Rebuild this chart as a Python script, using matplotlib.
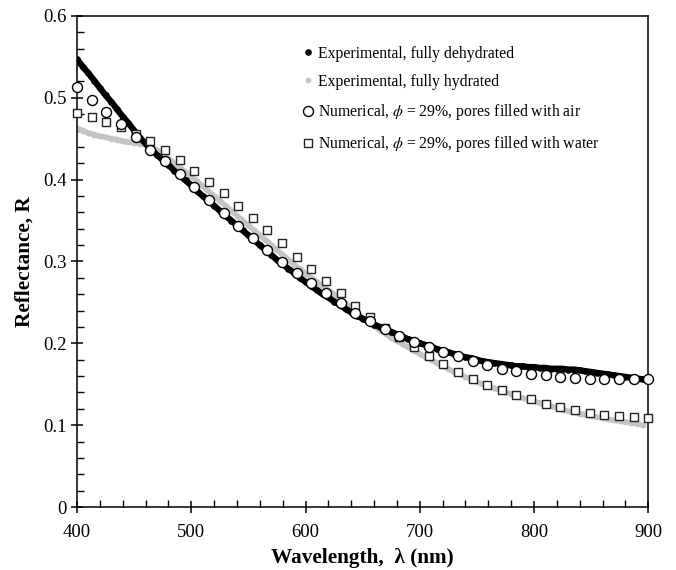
import numpy as np
import matplotlib
matplotlib.use("Agg")
import matplotlib.pyplot as plt
from matplotlib.ticker import MultipleLocator

plt.rcParams['font.family'] = ['Liberation Serif', 'DejaVu Serif']
plt.rcParams['mathtext.fontset'] = 'stix'

# Experimental spectra (sampled every 5 nm, 400-895 nm)
wl_exp = np.arange(400, 896, 5)
R_dehydrated = [
    0.547, 0.538, 0.530, 0.521, 0.512, 0.503, 0.495, 0.486, 0.477, 0.469,
    0.460, 0.451, 0.444, 0.437, 0.430, 0.424, 0.418, 0.411, 0.405, 0.399,
    0.393, 0.386, 0.380, 0.374, 0.368, 0.362, 0.356, 0.350, 0.344, 0.338,
    0.332, 0.326, 0.320, 0.314, 0.308, 0.302, 0.297, 0.291, 0.286, 0.280,
    0.275, 0.270, 0.265, 0.260, 0.256, 0.251, 0.247, 0.242, 0.238, 0.234,
    0.230, 0.227, 0.223, 0.220, 0.217, 0.214, 0.211, 0.208, 0.205, 0.203,
    0.200, 0.198, 0.196, 0.193, 0.191, 0.189, 0.187, 0.185, 0.183, 0.182,
    0.180, 0.178, 0.177, 0.176, 0.175, 0.174, 0.173, 0.172, 0.172, 0.171,
    0.171, 0.170, 0.170, 0.169, 0.169, 0.169, 0.168, 0.168, 0.167, 0.166,
    0.165, 0.164, 0.163, 0.162, 0.161, 0.160, 0.159, 0.158, 0.157, 0.156,
]
R_hydrated = [
    0.463, 0.460, 0.457, 0.455, 0.453, 0.452, 0.450, 0.449, 0.447, 0.446,
    0.445, 0.444, 0.443, 0.440, 0.436, 0.431, 0.426, 0.420, 0.415, 0.409,
    0.404, 0.398, 0.392, 0.386, 0.380, 0.374, 0.368, 0.362, 0.356, 0.350,
    0.344, 0.338, 0.332, 0.326, 0.320, 0.314, 0.308, 0.302, 0.296, 0.291,
    0.285, 0.280, 0.275, 0.270, 0.265, 0.260, 0.254, 0.249, 0.243, 0.237,
    0.231, 0.226, 0.221, 0.216, 0.212, 0.207, 0.203, 0.199, 0.195, 0.191,
    0.187, 0.183, 0.180, 0.176, 0.172, 0.169, 0.165, 0.162, 0.159, 0.156,
    0.153, 0.150, 0.148, 0.145, 0.143, 0.140, 0.138, 0.135, 0.133, 0.131,
    0.129, 0.127, 0.125, 0.123, 0.121, 0.119, 0.117, 0.116, 0.114, 0.113,
    0.111, 0.110, 0.109, 0.107, 0.106, 0.105, 0.104, 0.103, 0.102, 0.100,
]

# Numerical results (40 wavelengths, 400-900 nm)
wl_num = np.linspace(400, 900, 40)
R_air = [
    0.513, 0.497, 0.483, 0.468, 0.452, 0.436, 0.423, 0.407, 0.391, 0.375,
    0.359, 0.343, 0.329, 0.314, 0.299, 0.286, 0.274, 0.261, 0.249, 0.237,
    0.227, 0.218, 0.209, 0.202, 0.196, 0.189, 0.184, 0.178, 0.173, 0.169,
    0.166, 0.163, 0.161, 0.159, 0.158, 0.157, 0.157, 0.157, 0.157, 0.157,
]
R_water = [
    0.482, 0.476, 0.471, 0.464, 0.456, 0.447, 0.436, 0.424, 0.411, 0.397,
    0.384, 0.368, 0.353, 0.338, 0.322, 0.306, 0.291, 0.276, 0.261, 0.246,
    0.232, 0.219, 0.208, 0.196, 0.185, 0.175, 0.165, 0.157, 0.149, 0.143,
    0.137, 0.132, 0.126, 0.122, 0.119, 0.115, 0.113, 0.111, 0.110, 0.109,
]

labels = [
    "Experimental, fully dehydrated",
    "Experimental, fully hydrated",
    r"Numerical, $\phi$ = 29%, pores filled with air",
    r"Numerical, $\phi$ = 29%, pores filled with water",
]

gray = '#c4c4c4'
fig = plt.figure(figsize=(6.76, 5.70), dpi=100)
ax = fig.add_axes([0.114, 0.1105, 0.845, 0.8615])

# dense experimental bands
ax.plot(wl_exp, R_hydrated, '-', color=gray, lw=4.0, solid_capstyle='round', zorder=2)
h_hyd, = ax.plot(wl_exp, R_hydrated, 'o', color=gray, ms=4.2, mec='none', zorder=2)
ax.plot(wl_exp, R_dehydrated, '-', color='black', lw=4.5, solid_capstyle='round', zorder=3)
h_deh, = ax.plot(wl_exp, R_dehydrated, 'o', color='black', ms=4.8, mec='none', zorder=3)
h_wat, = ax.plot(wl_num, R_water, 's', mfc='white', mec='#222222', mew=1.0, ms=6.0, zorder=4, clip_on=False)
h_air, = ax.plot(wl_num, R_air, 'o', mfc='white', mec='black', mew=1.0, ms=7.2, zorder=5, clip_on=False)

ax.set_xlim(400, 900)
ax.set_ylim(0, 0.6)
ax.xaxis.set_major_locator(MultipleLocator(100))
ax.xaxis.set_minor_locator(MultipleLocator(20))
ax.yaxis.set_minor_locator(MultipleLocator(0.02))
ax.set_yticks(np.arange(0, 0.61, 0.1))
ax.set_yticklabels(['0', '0.1', '0.2', '0.3', '0.4', '0.5', '0.6'])
ax.tick_params(which='major', direction='inout', length=9, width=1.1, labelsize=13.5)
ax.tick_params(axis='x', which='major', pad=8)
ax.tick_params(axis='y', which='major', pad=3)
ax.tick_params(which='minor', direction='in', length=5, width=1.0)
ax.tick_params(top=False, right=False, which='both')
for s in ax.spines.values():
    s.set_linewidth(1.1)

ax.set_xlabel("Wavelength,  λ (nm)", fontsize=15.3, fontweight='bold', labelpad=5)
ax.set_ylabel("Reflectance, R", fontsize=15.3, fontweight='bold', labelpad=6)

leg = ax.legend([h_deh, h_hyd, h_air, h_wat], labels, loc='upper left',
                bbox_to_anchor=(0.376, 0.962), frameon=False, fontsize=11.3,
                numpoints=1, handlelength=0.6, handletextpad=0.35,
                labelspacing=0.78, borderaxespad=0.3)

fig.savefig("out.png", dpi=100)
